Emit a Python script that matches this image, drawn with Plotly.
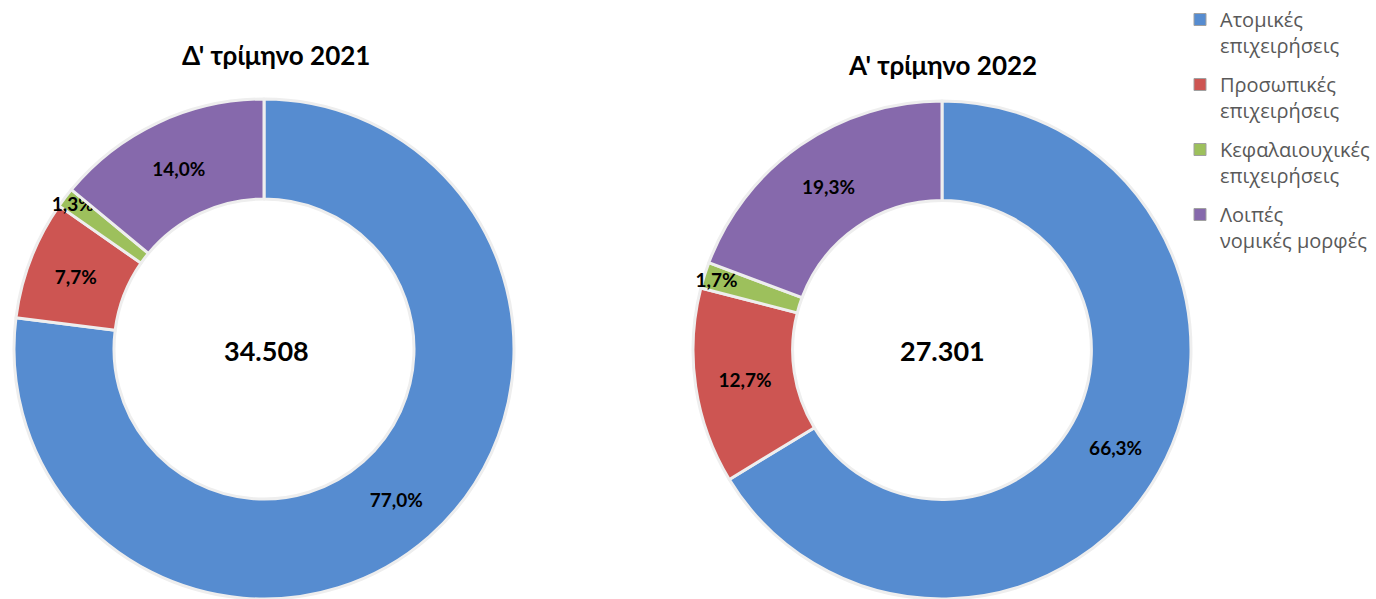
import plotly.graph_objects as go

categories = ["Ατομικές<br>επιχειρήσεις", "Προσωπικές<br>επιχειρήσεις",
              "Κεφαλαιουχικές<br>επιχειρήσεις", "Λοιπές<br>νομικές μορφές"]
values_2021q4 = [77.0, 7.7, 1.3, 14.0]
values_2022q1 = [66.3, 12.7, 1.7, 19.3]
total_2021q4 = "34.508"
total_2022q1 = "27.301"
title_2021q4 = "Δ' τρίμηνο 2021"
title_2022q1 = "Α' τρίμηνο 2022"

colors = ["#568CD0", "#CD5552", "#9DC05C", "#8669AC"]

def fmt(vals):
    return [f"{v:.1f}%".replace(".", ",") for v in vals]

W, H = 1376, 599

def dom(cx, cy, r):
    return dict(x=[(cx - r) / W, (cx + r) / W],
                y=[max(0, (H - cy - r) / H), (H - cy + r) / H])

fig = go.Figure()
for vals, d in [(values_2021q4, dom(264, 349, 250)),
                (values_2022q1, dom(942, 350, 249))]:
    fig.add_trace(go.Pie(
        labels=categories, values=vals, text=fmt(vals),
        textinfo="text", textposition="inside",
        insidetextorientation="horizontal",
        hole=0.6, sort=False, direction="clockwise", rotation=0,
        marker=dict(colors=colors, line=dict(color="#EEEEEE", width=3)),
        textfont=dict(family="Lato", size=19, color="black", weight="bold"),
        domain=d, showlegend=False, hoverinfo="label+text",
    ))

# legend entries (one group per category so they can be spaced apart)
for cat, col in zip(categories, colors):
    fig.add_trace(go.Scatter(
        x=[None], y=[None], mode="markers", name=cat, legendgroup=cat,
        marker=dict(symbol="square", size=12, color=col,
                    line=dict(color="#A0A0A0", width=1)),
        showlegend=True, hoverinfo="skip",
    ))

def ann(text, x, y, size):
    return dict(text=f"<b>{text}</b>", x=x / W, y=1 - y / H, xref="paper", yref="paper",
                xanchor="center", yanchor="middle", showarrow=False,
                font=dict(family="Lato", size=size, color="black"))

fig.update_layout(
    width=W, height=H, margin=dict(l=0, r=0, t=0, b=0),
    paper_bgcolor="white", plot_bgcolor="white",
    xaxis=dict(visible=False), yaxis=dict(visible=False),
    uniformtext=dict(minsize=19, mode="show"),
    legend=dict(x=1180 / W, y=1.0, xanchor="left", yanchor="top", valign="top",
                font=dict(family="Open Sans", size=20, color="#595959"),
                tracegroupgap=10, itemwidth=30),
    annotations=[
        ann(title_2021q4, 276, 55, 26),
        ann(title_2022q1, 942, 65, 26),
        ann(total_2021q4, 266, 350, 27),
        ann(total_2022q1, 942, 350, 27),
    ],
)

fig.write_html("out.html")
